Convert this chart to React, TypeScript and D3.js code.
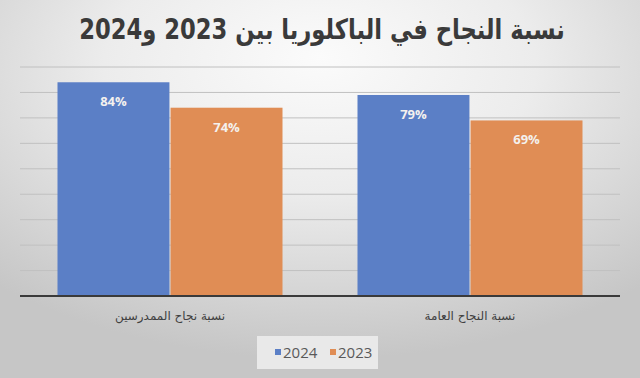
import React from "react";
import * as d3 from "d3";

const categories = ["نسبة نجاح الممدرسين", "نسبة النجاح العامة"];
const seriesNames = ["2024", "2023"];
const values2024 = [84, 79];
const values2023 = [74, 69];
const yTicks = [10, 20, 30, 40, 50, 60, 70, 80, 90];
const title = "نسبة النجاح في الباكلوريا بين 2023 و2024";

const W = 640;
const H = 378;
const colors = ["#5b7fc6", "#e08d55"];

export default function App() {
  const x0 = d3.scaleBand<string>().domain(categories).range([20, 620]).paddingInner(0.25).paddingOuter(0.125);
  const x1 = d3.scaleBand<string>().domain(seriesNames).range([0, x0.bandwidth()]).paddingInner(0.01);
  const y = d3.scaleLinear().domain([0, 90]).range([296, 67]);
  const seriesValues = [values2024, values2023];

  return (
    <svg width={W} height={H} style={{ position: "absolute", left: 0, top: 0 }}>
      <defs>
        <radialGradient id="bg" cx="50%" cy="20%" r="75%" fx="50%" fy="15%">
          <stop offset="0%" stopColor="#fbfbfb" />
          <stop offset="45%" stopColor="#ececec" />
          <stop offset="100%" stopColor="#c6c6c6" />
        </radialGradient>
      </defs>
      <rect x={0} y={0} width={W} height={H} fill="url(#bg)" />
      <g transform="translate(322,39) scale(0.81,1)">
        <text
          x={0}
          y={0}
          textAnchor="middle"
          direction="rtl"
          fontFamily="'DejaVu Sans', sans-serif"
          fontWeight="bold"
          fontSize={28}
          fill="#3a3a3a"
        >
          {title}
        </text>
      </g>
      {yTicks.map((t) => (
        <line key={t} x1={20} x2={620} y1={y(t)} y2={y(t)} stroke="#c0c0c0" strokeWidth={1} />
      ))}
      {categories.map((c, ci) => (
        <g key={c} transform={`translate(${x0(c)},0)`}>
          {seriesNames.map((s, si) => {
            const v = seriesValues[si][ci];
            const bx = x1(s)!;
            return (
              <g key={s}>
                <rect x={bx} y={y(v)} width={x1.bandwidth()} height={y(0) - y(v)} fill={colors[si]} />
                <text
                  x={bx + x1.bandwidth() / 2}
                  y={y(v) + 19}
                  textAnchor="middle"
                  dominantBaseline="central"
                  fontFamily="'Open Sans', 'DejaVu Sans', sans-serif"
                  fontWeight="bold"
                  fontSize={13}
                  fill="#f4f1ee"
                >
                  {v}%
                </text>
              </g>
            );
          })}
        </g>
      ))}
      <line x1={20} x2={620} y1={y(0)} y2={y(0)} stroke="#3a3a3a" strokeWidth={2} />
      {categories.map((c) => (
        <text
          key={c}
          x={x0(c)! + x0.bandwidth() / 2}
          y={316}
          textAnchor="middle"
          dominantBaseline="central"
          direction="rtl"
          fontFamily="'DejaVu Serif', 'DejaVu Sans', serif"
          fontSize={12}
          fill="#404040"
        >
          {c}
        </text>
      ))}
      <rect x={257} y={336} width={121} height={33} fill="#e9e9e9" />
      {seriesNames.map((s, i) => {
        const lx = 275 + i * 55;
        return (
          <g key={s}>
            <rect x={lx} y={349} width={6} height={6} fill={colors[i]} />
            <text
              x={lx + 8}
              y={352}
              dominantBaseline="central"
              fontFamily="'Open Sans', sans-serif"
              fontSize={15}
              fill="#595959"
            >
              {s}
            </text>
          </g>
        );
      })}
    </svg>
  );
}
